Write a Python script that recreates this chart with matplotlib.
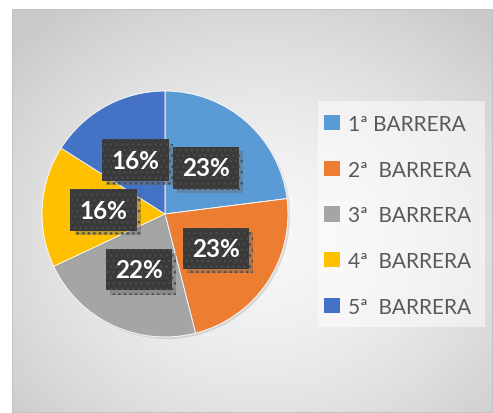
import numpy as np
import matplotlib
matplotlib.use("Agg")
import matplotlib.pyplot as plt
from matplotlib import patheffects as pe
from matplotlib.patches import Rectangle

labels = ["1ª BARRERA", "2ª  BARRERA", "3ª  BARRERA", "4ª  BARRERA", "5ª  BARRERA"]
values = [23, 23, 22, 16, 16]
colors = ["#5B9BD5", "#ED7D31", "#A5A5A5", "#FFC000", "#4472C4"]

W, H = 493, 414
fig = plt.figure(figsize=(W / 100, H / 100), dpi=100)
fig.patch.set_facecolor("white")

# chart area background with radial gradient
bx0, by0 = 12, 10
bg = fig.add_axes([bx0 / W, 0, (W - bx0) / W, (H - by0) / H])
ny, nx = 404, 481
yy, xx = np.mgrid[0:ny, 0:nx]
cx, cy = 250, 230
d = np.sqrt(((xx - cx) / 340.0) ** 2 + ((yy - cy) / 290.0) ** 2)
d = np.clip(d, 0, 1)
v = 0.97 - 0.18 * d ** 1.5
img = np.dstack([v, v, v])
bg.imshow(img, aspect="auto", extent=[0, 1, 0, 1], interpolation="bilinear")
bg.set_xlim(0, 1); bg.set_ylim(0, 1)
bg.axis("off")
bg.add_patch(Rectangle((0, 0), 1, 1, transform=bg.transAxes, fill=False,
                       edgecolor="#c4c4c4", linewidth=1.5))

# pie
pcx, pcy, R = 165, 215, 123
ax = fig.add_axes([(pcx - R) / W, (H - pcy - R) / H, 2 * R / W, 2 * R / H])
wedges, texts, autotexts = ax.pie(
    values, colors=colors, startangle=90, counterclock=False,
    autopct="%1.0f%%", pctdistance=0.5,
    wedgeprops=dict(linewidth=0.6, edgecolor="white"),
    textprops=dict(color="white", fontsize=17.5, fontweight="bold", family=["Lato", "DejaVu Sans"]),
)
for w in wedges:
    w.set_path_effects([pe.SimplePatchShadow(offset=(1.5, -1.5), shadow_rgbFace="#999999", alpha=0.3), pe.Normal()])
for t in autotexts:
    t.set_bbox(dict(boxstyle="square,pad=0.38", facecolor="#3a3a3a", edgecolor="#4b4b4b",
                    hatch="...", linewidth=0))
    t.get_bbox_patch().set_path_effects([
        pe.SimplePatchShadow(offset=(3, -3), shadow_rgbFace="#666666", alpha=0.4), pe.Normal()])
ax.set_xlim(-1, 1); ax.set_ylim(-1, 1)
ax.set_aspect("auto")
ax.axis("off")

# legend
lx0, ly0, lx1, ly1 = 318, 102, 485, 328
fig.patches.append(Rectangle((lx0 / W, 1 - ly1 / H), (lx1 - lx0) / W, (ly1 - ly0) / H,
                             transform=fig.transFigure, facecolor="white", alpha=0.5,
                             edgecolor="none", zorder=1))
leg = fig.legend(wedges, labels, loc="upper left",
                 bbox_to_anchor=((lx0 + 6) / W, 1 - (ly0 + 13) / H),
                 frameon=False, handlelength=0.75, handleheight=0.75, handletextpad=0.4,
                 labelspacing=1.23, borderaxespad=0, borderpad=0,
                 prop=dict(family=["Lato", "DejaVu Sans"], size=15))
for t in leg.get_texts():
    t.set_color("#595959")
for h in leg.legend_handles:
    h.set_path_effects([])
    h.set_edgecolor("none")

fig.savefig("out.png", dpi=100, facecolor=fig.get_facecolor())
